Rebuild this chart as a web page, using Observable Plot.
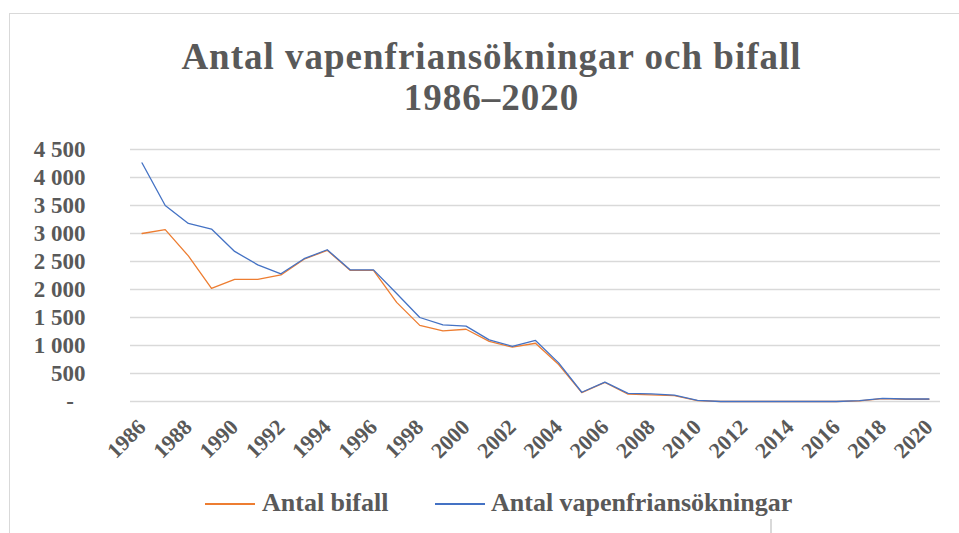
<!DOCTYPE html>
<html>
<head>
<meta charset="utf-8">
<script src="https://cdn.jsdelivr.net/npm/d3@7"></script>
<script src="https://cdn.jsdelivr.net/npm/@observablehq/plot@0.6"></script>
<style>
  html, body { margin: 0; padding: 0; background: #fff; }
  body { width: 959px; height: 533px; overflow: hidden; position: relative; font-family: "Liberation Serif", serif; color: #595959; }
  #frame { position: absolute; left: 9px; top: 13px; width: 1200px; height: 1200px; border: 1.5px solid #d9d9d9; box-sizing: border-box; }
  .title { position: absolute; left: 12px; width: 959px; text-align: center; font-weight: bold; font-size: 37px; line-height: 41px; letter-spacing: 1px; color: #595959; white-space: nowrap; }
  #chart { position: absolute; left: 0; top: 120px; }
  #legend { position: absolute; left: 0; top: 488px; width: 959px; height: 30px; }
  .li { position: absolute; top: 0; font-weight: bold; font-size: 26px; line-height: 30px; color: #595959; white-space: nowrap; }
  .sw { position: absolute; top: 15px; height: 1.5px; width: 50px; }
  #tick { position: absolute; left: 770px; top: 519px; width: 1.5px; height: 20px; background: #d9d9d9; }
</style>
</head>
<body>
<div id="frame"></div>
<div class="title" style="top:36px">Antal vapenfriansökningar och bifall</div>
<div class="title" style="top:77px">1986–2020</div>
<div id="chart"></div>
<div id="legend"></div>
<div id="tick"></div>
<script>
const years = [1986,1987,1988,1989,1990,1991,1992,1993,1994,1995,1996,1997,1998,1999,2000,2001,2002,2003,2004,2005,2006,2007,2008,2009,2010,2011,2012,2013,2014,2015,2016,2017,2018,2019,2020];
const bifall = [3000,3070,2600,2020,2180,2180,2260,2540,2700,2340,2340,1770,1360,1260,1290,1075,970,1040,660,160,340,130,120,105,15,0,0,0,0,0,0,10,50,40,40];
const ansokningar = [4260,3500,3180,3080,2680,2440,2280,2550,2710,2350,2350,1930,1500,1370,1345,1100,985,1090,690,165,345,145,135,115,20,0,0,0,0,0,0,15,55,45,45];
const seriesNames = ["Antal bifall", "Antal vapenfriansökningar"];
const seriesColors = ["#ED7D31", "#4472C4"];
const xTicks = [1986,1988,1990,1992,1994,1996,1998,2000,2002,2004,2006,2008,2010,2012,2014,2016,2018,2020];
const yTicks = [0,500,1000,1500,2000,2500,3000,3500,4000,4500];

const data = [];
years.forEach((y, i) => {
  data.push({year: y, value: bifall[i], series: seriesNames[0]});
  data.push({year: y, value: ansokningar[i], series: seriesNames[1]});
});

const fmtY = d => d === 0 ? "-\u2007" : d3.format(",")(d).replace(/,/g, " ");

const chart = Plot.plot({
  width: 959,
  height: 360,
  marginTop: 29,
  marginBottom: 79,
  marginLeft: 130,
  marginRight: 19,
  style: { fontFamily: "Liberation Serif", fontWeight: "bold", color: "#595959", background: "transparent", overflow: "visible" },
  x: { domain: [1985.5, 2020.5] },
  y: { domain: [0, 4500] },
  color: { domain: seriesNames, range: seriesColors },
  marks: [
    Plot.gridY(yTicks, { stroke: "#d9d9d9", strokeOpacity: 1, strokeWidth: 1.5 }),
    Plot.axisY({ ticks: yTicks, tickFormat: fmtY, tickSize: 0, tickPadding: 45, fontSize: 23, label: null, fill: "#595959" }),
    Plot.axisX({ ticks: xTicks, tickFormat: d => String(d), tickRotate: -45, tickSize: 0, tickPadding: 22, fontSize: 22, label: null, fill: "#595959" }),
    Plot.lineY(data.filter(d => d.series === seriesNames[0]), { x: "year", y: "value", stroke: "series", strokeWidth: 1.3 }),
    Plot.lineY(data.filter(d => d.series === seriesNames[1]), { x: "year", y: "value", stroke: "series", strokeWidth: 1.3 })
  ]
});
document.getElementById("chart").appendChild(chart);

// legend
const legend = document.getElementById("legend");
const legendPos = [{sw: 205, tx: 262}, {sw: 435, tx: 491}];
seriesNames.forEach((name, i) => {
  const sw = document.createElement("div");
  sw.className = "sw";
  sw.style.left = legendPos[i].sw + "px";
  sw.style.background = seriesColors[i];
  legend.appendChild(sw);
  const t = document.createElement("div");
  t.className = "li";
  t.style.left = legendPos[i].tx + "px";
  t.textContent = name;
  legend.appendChild(t);
});
</script>
</body>
</html>
